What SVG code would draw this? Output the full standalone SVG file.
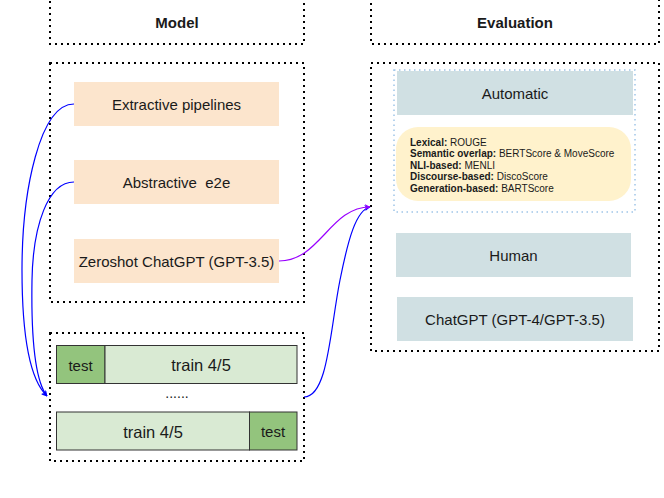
<svg xmlns="http://www.w3.org/2000/svg" width="664" height="498" viewBox="0 0 664 498">
<style>
text{font-family:"Liberation Sans",Arial,sans-serif;fill:#1a1a1a}
.dot{fill:none;stroke:#000;stroke-width:2;stroke-dasharray:2 4}
.peach{fill:#fce5cd;stroke:none}
.gray{fill:#d0e0e3;stroke:none}
.t15{font-size:15px;text-anchor:middle;dominant-baseline:central}
.t16{font-size:16.5px;text-anchor:middle;dominant-baseline:central}
.title{font-size:15px;font-weight:bold;text-anchor:middle;dominant-baseline:central}
.light{fill:#d9ead3;stroke:#333;stroke-width:1}
.dark{fill:#93c47d;stroke:#333;stroke-width:1}
.leg{font-size:10px}
.leg tspan.b{font-weight:bold}
.con{fill:none;stroke-width:1.2}
</style>
<defs>
<marker id="ab" viewBox="0 0 10 10" refX="9" refY="5" markerWidth="6" markerHeight="6" orient="auto" markerUnits="userSpaceOnUse"><path d="M0,0 L10,5 L0,10 L3,5 z" fill="#0000ff"/></marker>
<marker id="ap" viewBox="0 0 10 10" refX="9" refY="5" markerWidth="6" markerHeight="6" orient="auto" markerUnits="userSpaceOnUse"><path d="M0,0 L10,5 L0,10 L3,5 z" fill="#9900ff"/></marker>
</defs>
<g id="model-title"><rect class="dot" x="50" y="-1" width="254" height="45"/><text class="title" x="177" y="22">Model</text></g>
<g id="model-box"><rect class="dot" x="50" y="63" width="254" height="239"/></g>
<g id="extractive"><rect class="peach" x="74" y="82" width="205" height="44"/><text class="t15" x="176.5" y="104">Extractive pipelines</text></g>
<g id="abstractive"><rect class="peach" x="74" y="160" width="205" height="44"/><text class="t15" x="176.5" y="182" xml:space="preserve">Abstractive  e2e</text></g>
<g id="zeroshot"><rect class="peach" x="74" y="239" width="205" height="44"/><text class="t15" x="176.5" y="261">Zeroshot ChatGPT (GPT-3.5)</text></g>
<g id="split-box"><rect class="dot" x="50" y="333" width="254" height="128"/>
<rect class="dark" x="56.5" y="345.5" width="48.5" height="38"/><rect class="light" x="105" y="345.5" width="192" height="38"/>
<text class="t15" x="80.5" y="365">test</text><text class="t16" x="201" y="365">train 4/5</text>
<text class="t15" x="177" y="393" style="font-size:14px">......</text>
<rect class="light" x="56.5" y="412" width="193" height="38"/><rect class="dark" x="249.5" y="412" width="47.5" height="38"/>
<text class="t16" x="153" y="431.5">train 4/5</text><text class="t15" x="273" y="431.5">test</text></g>
<g id="eval-title"><rect class="dot" x="371" y="-1" width="288" height="45"/><text class="title" x="515" y="22">Evaluation</text></g>
<g id="eval-box"><rect class="dot" x="371" y="63" width="288" height="288"/></g>
<g id="automatic-group"><rect x="394" y="70" width="241" height="142" fill="none" stroke="#9fc5e8" stroke-width="1.5" stroke-dasharray="1.5 3.5"/>
<rect class="gray" x="397" y="71" width="236" height="44"/><text class="t15" x="515" y="93">Automatic</text>
<rect x="396" y="127" width="235" height="74" rx="22" fill="#fff2cc"/>
<text class="leg" x="410" y="145.5"><tspan class="b">Lexical:</tspan> ROUGE</text>
<text class="leg" x="410" y="157"><tspan class="b">Semantic overlap:</tspan> BERTScore &amp; MoveScore</text>
<text class="leg" x="410" y="168.5"><tspan class="b">NLI-based:</tspan> MENLI</text>
<text class="leg" x="410" y="180"><tspan class="b">Discourse-based:</tspan> DiscoScore</text>
<text class="leg" x="410" y="191.5"><tspan class="b">Generation-based:</tspan> BARTScore</text></g>
<g id="human"><rect class="gray" x="396" y="233" width="235" height="44"/><text class="t15" x="513.5" y="255">Human</text></g>
<g id="chatgpt-eval"><rect class="gray" x="397" y="297" width="236" height="44"/><text class="t15" x="515" y="319">ChatGPT (GPT-4/GPT-3.5)</text></g>
<g id="connectors">
<path class="con" stroke="#0000ff" marker-end="url(#ab)" d="M74,104 C40,104 22,190 22,270 C22,340 30,380 47,396"/>
<path class="con" stroke="#0000ff" marker-end="url(#ab)" d="M74,182 C48,182 33,225 32,280 C31,340 36,382 47,396"/>
<path class="con" stroke="#0000ff" marker-end="url(#ab)" d="M304,397 C328,397 330,330 340,280 C348,240 356,210 370,207"/>
<path class="con" stroke="#9900ff" marker-end="url(#ap)" d="M279,261 C320,261 330,207 370,207"/>
</g>
</svg>
